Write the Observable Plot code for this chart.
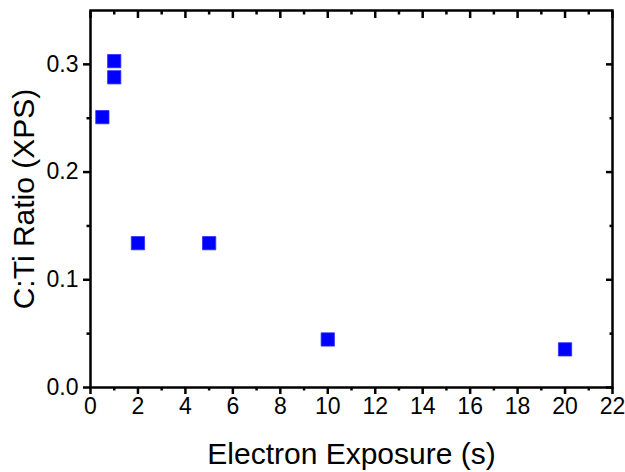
<!DOCTYPE html>
<html><head><meta charset="utf-8">
<script src="https://cdn.jsdelivr.net/npm/d3@7"></script>
<script src="https://cdn.jsdelivr.net/npm/@observablehq/plot@0.6"></script>
<style>
body{margin:0;background:#fff}
g[aria-label="x-axis tick label"], g[aria-label="y-axis tick label"] { font-size: 23px; }
</style>
</head><body><div id="chart"></div>
<script>
const exposure = [0.5, 1, 1, 2, 5, 10, 20];
const ratio = [0.251, 0.303, 0.288, 0.134, 0.134, 0.0446, 0.0354];
const xMajor = [0, 2, 4, 6, 8, 10, 12, 14, 16, 18, 20, 22];
const xMinor = [1, 3, 5, 7, 9, 11, 13, 15, 17, 19, 21];
const yMajor = [0, 0.1, 0.2, 0.3];
const yMinor = [0.05, 0.15, 0.25];
const xLabel = "Electron Exposure (s)";
const yLabel = "C:Ti Ratio (XPS)";

const data = exposure.map((x, i) => ({x, y: ratio[i]}));
const sw = 2.5;
const chart = Plot.plot({
  width: 625,
  height: 472,
  marginLeft: 90,
  marginRight: 13,
  marginTop: 10,
  marginBottom: 85,
  style: {fontFamily: "'Liberation Sans', Arial, sans-serif", fontSize: "23px", color: "#000", background: "#fff"},
  x: {domain: [0, 22]},
  y: {domain: [0, 0.35]},
  marks: [
    Plot.axisX(xMajor, {anchor: "bottom", tickSize: 7, tickPadding: 3, strokeWidth: sw, fontSize: 23, label: null}),
    Plot.axisX(xMinor, {anchor: "bottom", tickSize: 3.5, strokeWidth: sw, text: null, label: null}),
    Plot.axisX(xMajor, {anchor: "top", tickSize: -7, strokeWidth: sw, text: null, label: null}),
    Plot.axisX(xMinor, {anchor: "top", tickSize: -3.5, strokeWidth: sw, text: null, label: null}),
    Plot.axisY(yMajor, {anchor: "left", tickSize: 7, tickPadding: 5, strokeWidth: sw, fontSize: 23, tickFormat: d3.format(".1f"), label: null}),
    Plot.axisY(yMinor, {anchor: "left", tickSize: 3.5, strokeWidth: sw, text: null, label: null}),
    Plot.axisY(yMajor, {anchor: "right", tickSize: -7, strokeWidth: sw, text: null, label: null}),
    Plot.axisY(yMinor, {anchor: "right", tickSize: -3.5, strokeWidth: sw, text: null, label: null}),
    Plot.frame({stroke: "#000", strokeWidth: sw}),
    Plot.text([xLabel], {frameAnchor: "bottom", dy: 76, fontSize: 30, lineAnchor: "bottom", text: d => d}),
    Plot.text([yLabel], {frameAnchor: "left", dx: -66, fontSize: 30, rotate: -90, textAnchor: "middle", lineAnchor: "middle", text: d => d}),
    Plot.dot(data, {x: "x", y: "y", symbol: "square", r: 7.5, fill: "#0000ff", stroke: "#3030ff", strokeWidth: 0.8})
  ]
});
document.getElementById("chart").appendChild(chart);
</script>
</body></html>
